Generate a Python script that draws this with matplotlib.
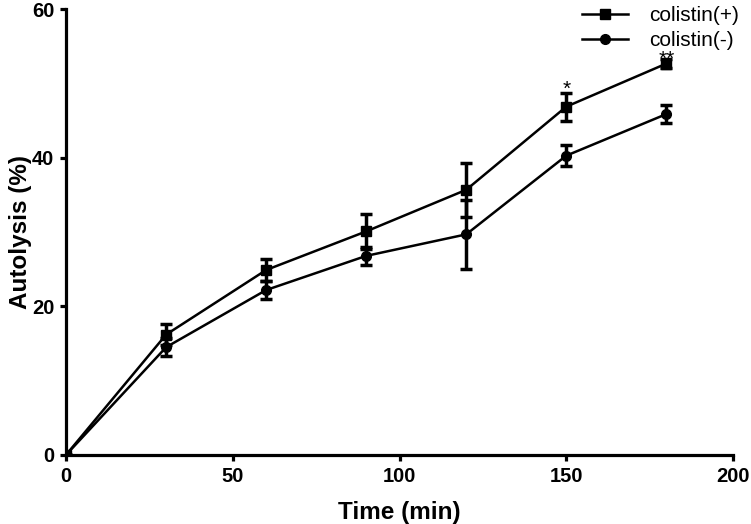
import matplotlib.pyplot as plt
from matplotlib.lines import Line2D

# Data
time = [0, 30, 60, 90, 120, 150, 180]
col_pos = [0, 16.2, 24.9, 30.1, 35.7, 46.9, 52.7]
col_pos_err = [0, 1.4, 1.5, 2.4, 3.6, 1.9, 0.6]
col_neg = [0, 14.5, 22.2, 26.8, 29.7, 40.3, 45.9]
col_neg_err = [0, 1.2, 1.2, 1.2, 4.6, 1.4, 1.2]

# significance marks (time, label, baseline height)
star_x = [150, 180]
star_txt = ["*", "**"]
star_y = [48.5, 52.6]

plt.rcParams['font.family'] = ['Liberation Sans', 'DejaVu Sans']

fig = plt.figure(figsize=(7.51, 5.24), dpi=100)
ax = fig.add_axes([0.088, 0.132, 0.888, 0.85])

ax.errorbar(time, col_pos, yerr=col_pos_err, color='black', marker='s', markersize=7,
            linewidth=1.8, elinewidth=2.5, capsize=4, capthick=2.5)
ax.errorbar(time, col_neg, yerr=col_neg_err, color='black', marker='o', markersize=7,
            linewidth=1.8, elinewidth=2.5, capsize=4, capthick=2.5)

# asterisk glyph sits high in its box, so anchor at the baseline
for x, s, y in zip(star_x, star_txt, star_y):
    ax.text(x, y, s, ha='center', va='baseline', fontsize=15)

ax.set_xlim(0, 200)
ax.set_ylim(0, 60)
ax.set_xticks([0, 50, 100, 150, 200])
ax.set_yticks([0, 20, 40, 60])
ax.spines['top'].set_visible(False)
ax.spines['right'].set_visible(False)
ax.spines['left'].set_linewidth(2.3)
ax.spines['bottom'].set_linewidth(2.3)
ax.tick_params(width=2.3, length=4.5, labelsize=14.5, pad=4)
for lbl in ax.get_xticklabels() + ax.get_yticklabels():
    lbl.set_fontweight('bold')

ax.set_xlabel('Time (min)', fontsize=17.5, fontweight='bold', labelpad=11)
ax.set_ylabel('Autolysis (%)', fontsize=17.5, fontweight='bold', labelpad=0)

handles = [Line2D([], [], color='black', marker='s', markersize=7, linewidth=1.8),
           Line2D([], [], color='black', marker='o', markersize=7, linewidth=1.8)]
ax.legend(handles, ['colistin(+)', 'colistin(-)'], loc='upper right',
          bbox_to_anchor=(1.0, 1.012), bbox_transform=fig.transFigure,
          frameon=False, fontsize=15, handlelength=2.2, handletextpad=1.0,
          borderpad=0.1, labelspacing=0.3)

fig.savefig('out.png', dpi=100)
